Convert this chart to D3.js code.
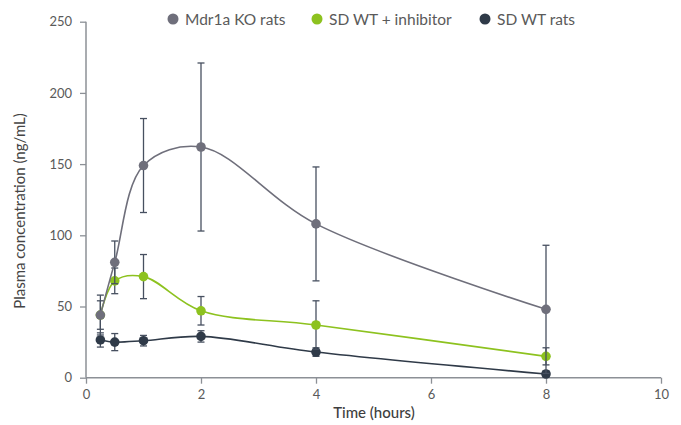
<!DOCTYPE html>
<html>
<head>
<meta charset="utf-8">
<script src="https://d3js.org/d3.v7.min.js"></script>
<style>
  body { margin: 0; background: #fff; }
  svg text { font-family: Lato, "Noto Sans", sans-serif; fill: #5a5a5a; }
</style>
</head>
<body>
<svg id="chart" width="681" height="425"></svg>
<script>
// data
var times = [0.25, 0.5, 1, 2, 4, 8];
var koMean = [44, 81, 149, 162, 108, 48];
var koErr = [14, 15, 33, 59, 40, 45];
var inhMean = [44, 68, 71, 47, 37, 15];
var inhErr = [10, 9, 15.5, 10, 17, 6];
var wtMean = [26.5, 25, 26, 29, 18, 2.6];
var wtErr = [5, 6, 3.7, 4, 3, 2];
var seriesNames = ["Mdr1a KO rats", "SD WT + inhibitor", "SD WT rats"];
var seriesColors = ["#6f6f7b", "#8dc21f", "#2f3a48"];
var xTicks = [0, 2, 4, 6, 8, 10];
var yTicks = [0, 50, 100, 150, 200, 250];

var svg = d3.select("#chart");
var x = d3.scaleLinear().domain([0, 10]).range([86, 661]);
var y = d3.scaleLinear().domain([0, 250]).range([377.7, 21.7]);

var axisColor = "#8c9096";

// axes
var gx = svg.append("g").attr("transform", "translate(0," + y(0) + ")")
  .call(d3.axisBottom(x).tickValues(xTicks).tickSize(6).tickPadding(6));
var gy = svg.append("g").attr("transform", "translate(" + x(0) + ",0)")
  .call(d3.axisLeft(y).tickValues(yTicks).tickSize(6).tickPadding(8));
[gx, gy].forEach(function(g) {
  g.select(".domain").attr("stroke", axisColor).attr("stroke-width", 1.5);
  g.selectAll(".tick line").attr("stroke", axisColor).attr("stroke-width", 1.3);
  g.selectAll(".tick text").style("font-size", "13px").style("font-family", "Lato, 'Noto Sans', sans-serif").attr("fill", "#666");
});
gx.select(".domain").attr("d", "M" + x(0) + ",0H" + x(10));
gy.select(".domain").attr("d", "M0," + y(250) + "V" + y(0));

svg.append("text").attr("x", 374).attr("y", 418).attr("text-anchor", "middle")
  .style("font-size", "15px").style("font-weight", 500).style("fill", "#3e3e3e").text("Time (hours)");
svg.append("text").attr("transform", "translate(25,211) rotate(-90)").attr("text-anchor", "middle")
  .style("font-size", "15px").style("fill", "#444").text("Plasma concentration (ng/mL)");

var allSeries = [
  { name: seriesNames[0], color: seriesColors[0], mean: koMean, err: koErr },
  { name: seriesNames[1], color: seriesColors[1], mean: inhMean, err: inhErr },
  { name: seriesNames[2], color: seriesColors[2], mean: wtMean, err: wtErr }
];

var line = d3.line().x(function(d) { return x(d.t); }).y(function(d) { return y(d.v); })
  .curve(d3.curveCatmullRom.alpha(0.5));

// draw bottom series first so the KO points sit on top
allSeries.slice().reverse().forEach(function(s) {
  var pts = times.map(function(t, i) { return { t: t, v: s.mean[i], e: s.err[i] }; });
  svg.append("path").datum(pts).attr("d", line).attr("fill", "none")
    .attr("stroke", s.color).attr("stroke-width", 1.6);
  var eb = svg.append("g");
  pts.forEach(function(p) {
    var cx = x(p.t);
    eb.append("line").attr("x1", cx).attr("x2", cx).attr("y1", y(p.v + p.e)).attr("y2", y(Math.max(0, p.v - p.e)))
      .attr("stroke", "#475060").attr("stroke-width", 1.3);
    [p.v + p.e, Math.max(0, p.v - p.e)].forEach(function(v) {
      eb.append("line").attr("x1", cx - 3.5).attr("x2", cx + 3.5).attr("y1", y(v)).attr("y2", y(v))
        .attr("stroke", "#475060").attr("stroke-width", 1.3);
    });
  });
  svg.append("g").selectAll("circle").data(pts).join("circle")
    .attr("cx", function(d) { return x(d.t); }).attr("cy", function(d) { return y(d.v); })
    .attr("r", 4.8).attr("fill", s.color);
});

// legend
var legX = [173, 317, 485];
allSeries.forEach(function(s, i) {
  svg.append("circle").attr("cx", legX[i]).attr("cy", 19).attr("r", 5.5).attr("fill", s.color);
  svg.append("text").attr("x", legX[i] + 12).attr("y", 24.5).style("font-size", "15.5px").text(s.name);
});
</script>
</body>
</html>
